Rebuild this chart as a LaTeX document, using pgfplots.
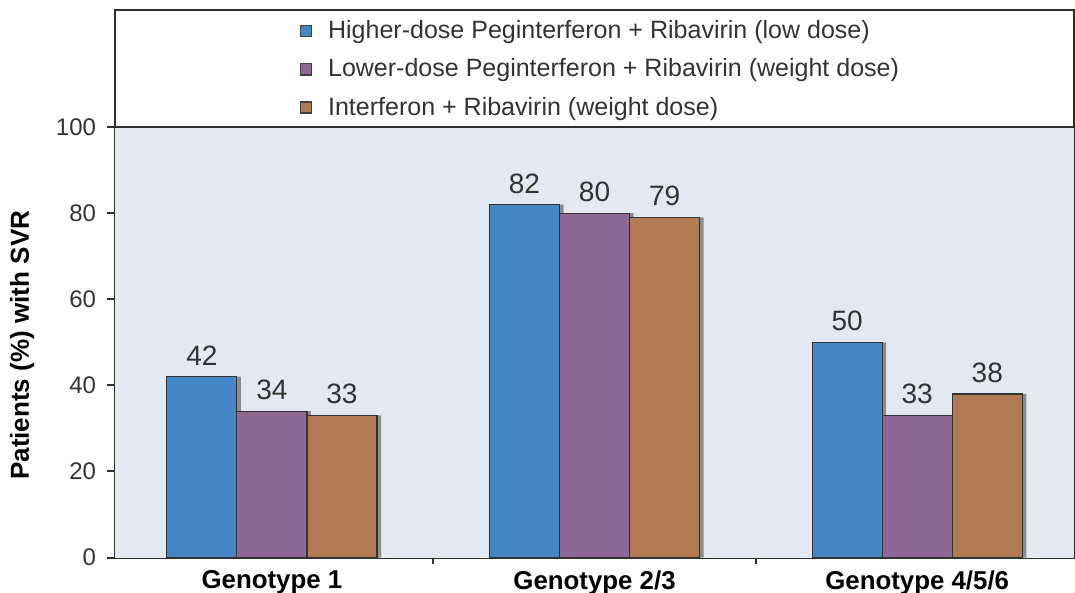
\documentclass[border=0pt]{standalone}
\usepackage{pgfplots}
\pgfplotsset{compat=1.18}
\usepackage{fontspec}
\setmainfont{Liberation Sans}
\usetikzlibrary{calc}
\definecolor{cblue}{HTML}{4286C6}
\definecolor{cpurple}{HTML}{8D6897}
\definecolor{corange}{HTML}{B27A52}
\definecolor{bgcol}{HTML}{E4E8F0}
\definecolor{axcol}{HTML}{2F2F2F}
\definecolor{txtcol}{HTML}{333333}
\begin{document}
\begin{tikzpicture}
\begin{axis}[
  scale only axis, width=479pt, height=273.5pt,
  xmin=-0.486, xmax=2.486, ymin=0, ymax=127.2,
  ytick={0,20,40,60,80,100},
  xtick={0,1,2},
  xticklabels={Genotype 1,Genotype 2/3,Genotype 4/5/6},
  xtick style={draw=none},
  tick align=outside, major tick length=4pt,
  ytick style={line width=1pt, color=axcol},
  axis line style={line width=1pt, color=axcol},
  /pgf/number format/assume math mode=true,
  yticklabel style={font=\fontsize{12}{14}\selectfont, color=txtcol, xshift=-2pt},
  xticklabel style={font=\fontsize{12.9}{14}\selectfont\bfseries, color=black, yshift=1pt},
  ylabel={Patients (\%) with SVR},
  ylabel style={at={(rel axis cs:-0.097,0.3876)}, anchor=center, font=\fontsize{13}{15}\selectfont\bfseries, color=black},
  ybar, bar width=35pt,
  nodes near coords,
  every node near coord/.append style={font=\fontsize{14}{16}\selectfont, color=txtcol, yshift=2pt},
  legend image code/.code={\draw[#1, draw=black!75] (0pt,-2.75pt) rectangle (5.5pt,2.75pt); \path (12pt,0pt);},
  legend style={at={(rel axis cs:0.186,0.994)}, anchor=north west, draw=none, fill=none,
    font=\fontsize{12.5}{14}\selectfont, text=txtcol, row sep=5.5pt,
    nodes={inner sep=1.5pt}},
  legend cell align=left,
  clip=false,
]
\fill[bgcol] (axis cs:-0.486,0) rectangle (axis cs:2.486,100);
\draw[line width=1pt, axcol] (axis cs:-0.486,100) -- (axis cs:2.486,100);
\draw[line width=0.8pt, axcol] (axis cs:0.5,0) -- ([yshift=-3pt]axis cs:0.5,0);
\draw[line width=0.8pt, axcol] (axis cs:1.5,0) -- ([yshift=-3pt]axis cs:1.5,0);
% shadows
\addplot[forget plot, fill=black!45, draw=none, bar shift=-33pt, nodes near coords={}] coordinates {(0,42) (1,82) (2,50)};
\addplot[forget plot, fill=black!45, draw=none, bar shift=2pt, nodes near coords={}] coordinates {(0,34) (1,80) (2,33)};
\addplot[forget plot, fill=black!45, draw=none, bar shift=37pt, nodes near coords={}] coordinates {(0,33) (1,79) (2,38)};
% bars
\addplot[fill=cblue, draw=black!80, line width=0.6pt, bar shift=-35pt] coordinates {(0,42) (1,82) (2,50)};
\addplot[fill=cpurple, draw=black!80, line width=0.6pt, bar shift=0pt] coordinates {(0,34) (1,80) (2,33)};
\addplot[fill=corange, draw=black!80, line width=0.6pt, bar shift=35pt] coordinates {(0,33) (1,79) (2,38)};
\legend{Higher-dose Peginterferon + Ribavirin (low dose),
        Lower-dose Peginterferon + Ribavirin (weight dose),
        Interferon + Ribavirin (weight dose)}
\coordinate (bl) at (rel axis cs:0,0);
\coordinate (tr) at (rel axis cs:1,1);
\end{axis}
\pgfresetboundingbox
\path[use as bounding box] ($(bl)+(-57.5pt,-17.5pt)$) rectangle ($(tr)+(0.5pt,5pt)$);
\end{tikzpicture}
\end{document}
